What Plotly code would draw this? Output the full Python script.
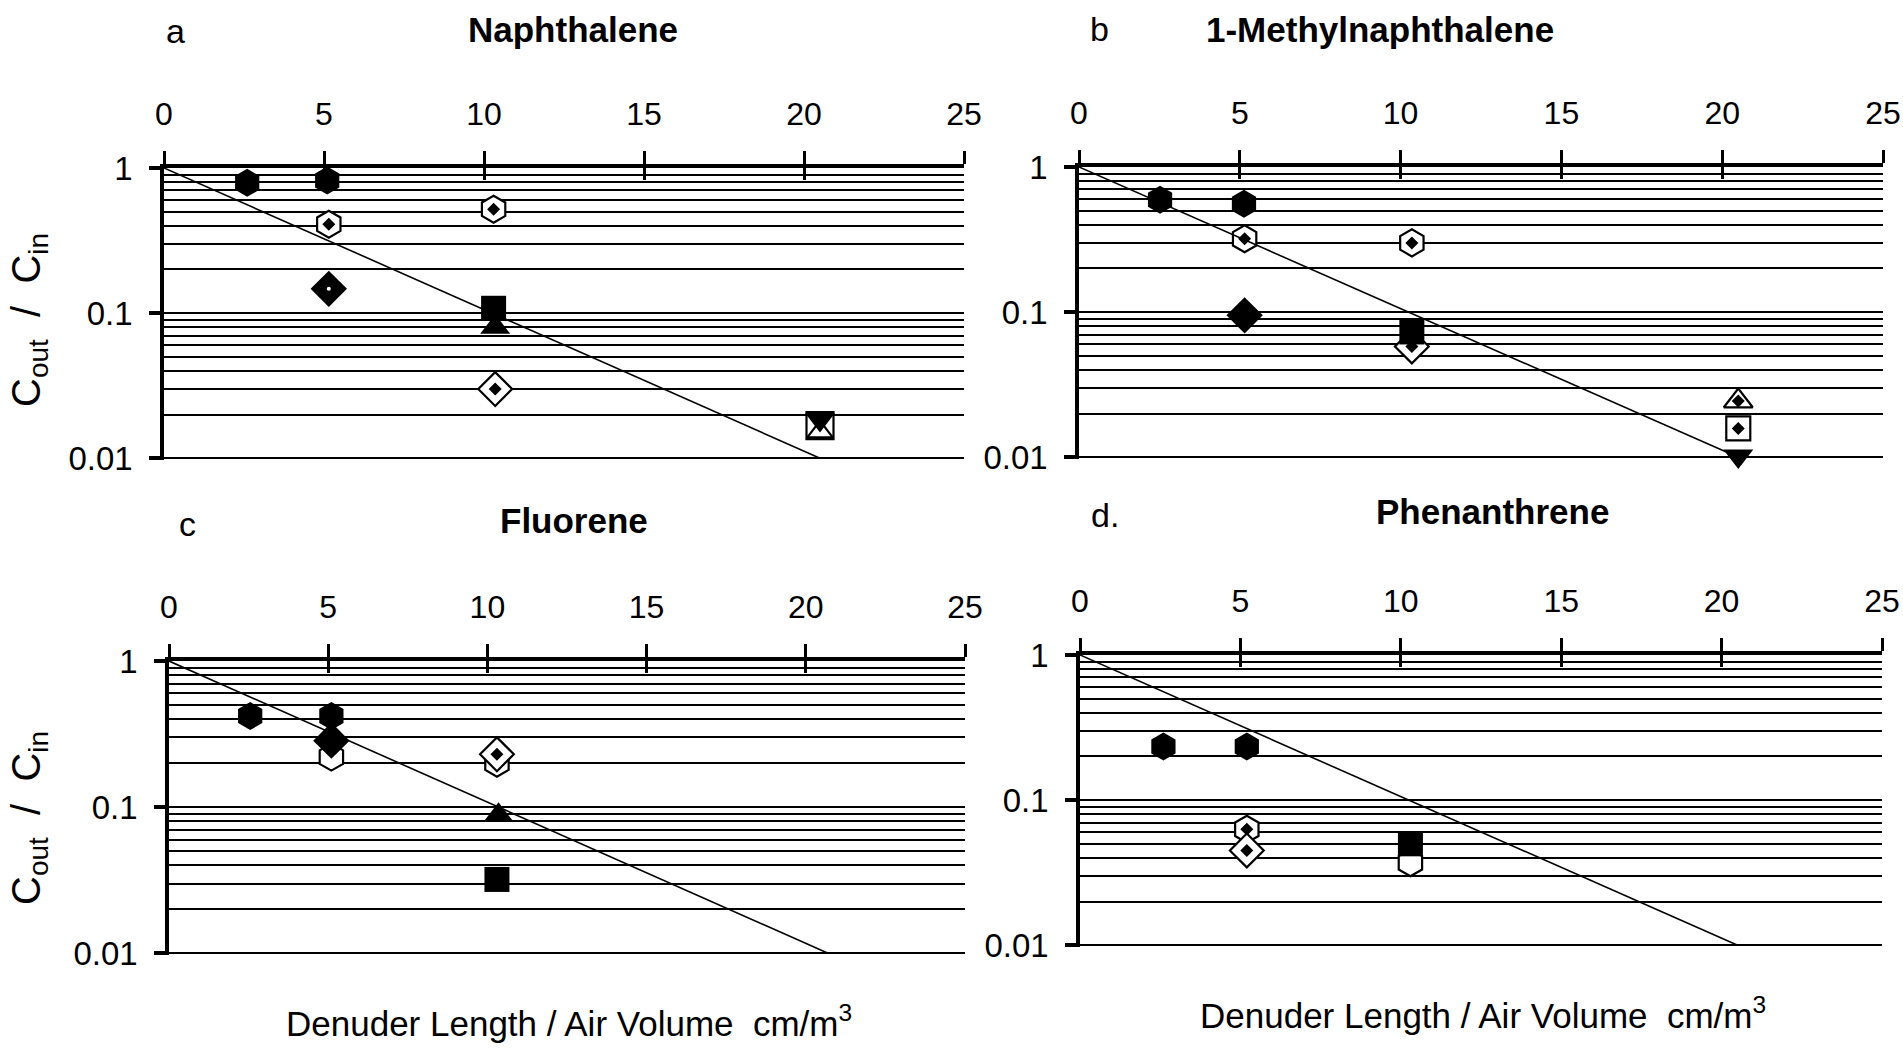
import plotly.graph_objects as go

W, H = 1903, 1048

# ---------------- data ----------------
x_tick_vals = [0, 5, 10, 15, 20, 25]
x_tick_text = ["0", "5", "10", "15", "20", "25"]
y_major_vals = [0.01, 0.1, 1]
y_major_text = ["0.01", "0.1", "1"]
y_minor_vals = [m * d for d in (0.01, 0.1) for m in range(2, 10)]

titles = ["Naphthalene", "1-Methylnaphthalene", "Fluorene", "Phenanthrene"]
letters = ["a", "b", "c", "d."]
x_title = "Denuder Length / Air Volume  cm/m<sup>3</sup>"
y_title = "C<sub>out</sub>  /  C<sub>in</sub>"

# reference line (theory) end points per panel
line_a_x, line_a_y = [0, 20.5], [1, 0.01]
line_b_x, line_b_y = [0, 20.5], [1, 0.01]
line_c_x, line_c_y = [0, 20.7], [1, 0.01]
line_d_x, line_d_y = [0, 20.5], [1, 0.01]

# (a) Naphthalene
a_hex_filled_x, a_hex_filled_y = [2.6, 5.1], [0.79, 0.82]
a_hex_open_dot_x, a_hex_open_dot_y = [5.15, 10.3], [0.41, 0.52]
a_diamond_filled_x, a_diamond_filled_y = [5.15], [0.147]
a_tri_up_filled_x, a_tri_up_filled_y = [10.35], [0.08]
a_square_filled_x, a_square_filled_y = [10.3], [0.108]
a_diamond_open_dot_x, a_diamond_open_dot_y = [10.35], [0.030]
a_square_open_x, a_square_open_y = [20.5], [0.0168]
a_tri_up_open_x, a_tri_up_open_y = [20.5], [0.0152]
a_tri_down_filled_x, a_tri_down_filled_y = [20.5], [0.0185]

# (b) 1-Methylnaphthalene
b_hex_filled_x, b_hex_filled_y = [2.52, 5.13], [0.594, 0.558]
b_hex_open_dot_x, b_hex_open_dot_y = [5.15, 10.35], [0.32, 0.30]
b_diamond_filled_x, b_diamond_filled_y = [5.15], [0.095]
b_diamond_open_dot_x, b_diamond_open_dot_y = [10.35], [0.058]
b_square_filled_x, b_square_filled_y = [10.35], [0.073]
b_tri_up_open_dot_x, b_tri_up_open_dot_y = [20.5], [0.0244]
b_square_open_dot_x, b_square_open_dot_y = [20.5], [0.0158]
b_tri_down_filled_x, b_tri_down_filled_y = [20.5], [0.0102]

# (c) Fluorene
c_hex_filled_x, c_hex_filled_y = [2.55, 5.1], [0.42, 0.42]
c_hex_open_x, c_hex_open_y = [5.1, 10.3], [0.22, 0.20]
c_diamond_filled_x, c_diamond_filled_y = [5.1], [0.285]
c_diamond_open_dot_x, c_diamond_open_dot_y = [10.3], [0.23]
c_tri_up_filled_x, c_tri_up_filled_y = [10.35], [0.088]
c_square_filled_x, c_square_filled_y = [10.3], [0.032]

# (d) Phenanthrene
d_hex_filled_x, d_hex_filled_y = [2.6, 5.2], [0.234, 0.234]
d_hex_open_dot_x, d_hex_open_dot_y = [5.2], [0.063]
d_diamond_open_dot_x, d_diamond_open_dot_y = [5.2], [0.045]
d_hex_open_x, d_hex_open_y = [10.3], [0.037]
d_square_filled_x, d_square_filled_y = [10.3], [0.050]

panels = [
    dict(line=(line_a_x, line_a_y), series=[
        ("hex_open_dot", a_hex_open_dot_x, a_hex_open_dot_y),
        ("diamond_filled", a_diamond_filled_x, a_diamond_filled_y),
        ("diamond_open_dot", a_diamond_open_dot_x, a_diamond_open_dot_y),
        ("tri_up_filled", a_tri_up_filled_x, a_tri_up_filled_y),
        ("square_filled", a_square_filled_x, a_square_filled_y),
        ("square_open", a_square_open_x, a_square_open_y),
        ("tri_up_open", a_tri_up_open_x, a_tri_up_open_y),
        ("tri_down_filled", a_tri_down_filled_x, a_tri_down_filled_y),
        ("hex_filled", a_hex_filled_x, a_hex_filled_y),
    ], white_dot=(a_diamond_filled_x, a_diamond_filled_y)),
    dict(line=(line_b_x, line_b_y), series=[
        ("hex_open_dot", b_hex_open_dot_x, b_hex_open_dot_y),
        ("diamond_filled", b_diamond_filled_x, b_diamond_filled_y),
        ("diamond_open_dot", b_diamond_open_dot_x, b_diamond_open_dot_y),
        ("square_filled", b_square_filled_x, b_square_filled_y),
        ("tri_up_open_dot", b_tri_up_open_dot_x, b_tri_up_open_dot_y),
        ("square_open_dot", b_square_open_dot_x, b_square_open_dot_y),
        ("tri_down_filled", b_tri_down_filled_x, b_tri_down_filled_y),
        ("hex_filled", b_hex_filled_x, b_hex_filled_y),
    ], white_dot=None),
    dict(line=(line_c_x, line_c_y), series=[
        ("hex_open", c_hex_open_x, c_hex_open_y),
        ("diamond_open_dot", c_diamond_open_dot_x, c_diamond_open_dot_y),
        ("diamond_filled", c_diamond_filled_x, c_diamond_filled_y),
        ("tri_up_filled", c_tri_up_filled_x, c_tri_up_filled_y),
        ("square_filled", c_square_filled_x, c_square_filled_y),
        ("hex_filled", c_hex_filled_x, c_hex_filled_y),
    ], white_dot=None),
    dict(line=(line_d_x, line_d_y), series=[
        ("hex_open_dot", d_hex_open_dot_x, d_hex_open_dot_y),
        ("diamond_open_dot", d_diamond_open_dot_x, d_diamond_open_dot_y),
        ("hex_open", d_hex_open_x, d_hex_open_y),
        ("square_filled", d_square_filled_x, d_square_filled_y),
        ("hex_filled", d_hex_filled_x, d_hex_filled_y),
    ], white_dot=None),
]

# ---------------- styles ----------------
FONT = "Liberation Sans, Arial, Helvetica, sans-serif"
BLK = "black"
OUT_W = 2.2

styles = {
    "hex_filled": dict(symbol="hexagon", size=28, color=BLK, line=dict(width=0)),
    "hex_open": dict(symbol="hexagon", size=27, color="white", line=dict(width=OUT_W, color=BLK)),
    "hex_open_dot": dict(symbol="hexagon", size=27, color="white", line=dict(width=OUT_W, color=BLK)),
    "diamond_filled": dict(symbol="diamond", size=28, color=BLK, line=dict(width=0)),
    "diamond_open_dot": dict(symbol="diamond", size=26, color="white", line=dict(width=OUT_W, color=BLK)),
    "square_filled": dict(symbol="square", size=25, color=BLK, line=dict(width=0)),
    "square_open": dict(symbol="square", size=27, color="white", line=dict(width=OUT_W, color=BLK)),
    "square_open_dot": dict(symbol="square", size=24, color="white", line=dict(width=OUT_W, color=BLK)),
    "tri_up_filled": dict(symbol="triangle-up", size=26, color=BLK, line=dict(width=0)),
    "tri_up_open": dict(symbol="triangle-up", size=22, color="white", line=dict(width=OUT_W, color=BLK)),
    "tri_up_open_dot": dict(symbol="triangle-up", size=25, color="white", line=dict(width=OUT_W, color=BLK)),
    "tri_down_filled": dict(symbol="triangle-down", size=26, color=BLK, line=dict(width=0)),
}
inner_dot = dict(symbol="diamond", size=10, color=BLK, line=dict(width=0))

# panel placement in pixels: (x at 0, x at 25, y at 1, y at 0.01)
boxes = [
    (164, 964, 168, 460),
    (1079, 1883, 167, 459),
    (169, 965, 661, 955),
    (1080, 1882, 655, 947),
]

fig = go.Figure()
layout = dict(
    template="none",
    width=W, height=H, margin=dict(l=0, r=0, t=0, b=0, pad=0, autoexpand=False),
    paper_bgcolor="white", plot_bgcolor="rgba(0,0,0,0)",
    showlegend=False, font=dict(family=FONT, color=BLK),
)

annotations = []
for i, (p, box) in enumerate(zip(panels, boxes), start=1):
    x0, x1, yt, yb = box
    xs = "" if i == 1 else str(i)
    xref, yref = "x" + xs, "y" + xs
    ov = str(i + 4)
    layout["xaxis" + xs] = dict(
        domain=[x0 / W, x1 / W], range=[0, 25], side="top", anchor=yref,
        tickvals=x_tick_vals, ticktext=x_tick_text, ticks="outside", ticklen=13,
        tickwidth=2.5, tickcolor=BLK, showline=True, linewidth=3.5, linecolor=BLK,
        showgrid=False, zeroline=False, tickfont=dict(size=32, family=FONT, color=BLK),
        ticklabelstandoff=13, fixedrange=True, automargin=False,
    )
    layout["yaxis" + xs] = dict(
        domain=[1 - yb / H, 1 - yt / H], type="log", range=[-2.012, 0], anchor=xref,
        tickvals=y_major_vals, ticktext=y_major_text, ticks="outside", ticklen=11,
        tickwidth=3.5, tickcolor=BLK, showline=True, linewidth=3.5, linecolor=BLK,
        showgrid=True, gridcolor=BLK, gridwidth=1.8, zeroline=False,
        minor=dict(tickvals=y_minor_vals, showgrid=True, gridcolor=BLK, gridwidth=1.6, ticks=""),
        tickfont=dict(size=33, family=FONT, color=BLK), ticklabelstandoff=10,
        fixedrange=True, automargin=False,
    )
    # overlay axis for the inner half of the crossing ticks
    layout["xaxis" + ov] = dict(
        overlaying=xref, anchor=yref, side="top", range=[0, 25],
        tickvals=x_tick_vals, ticks="inside", ticklen=12, tickwidth=2.5, tickcolor=BLK,
        showticklabels=False, showline=False, showgrid=False, zeroline=False,
        fixedrange=True, automargin=False,
    )
    lx, ly = p["line"]
    fig.add_trace(go.Scatter(x=lx, y=ly, mode="lines", line=dict(color=BLK, width=1.6),
                             xaxis="x" + ov, yaxis=yref, hoverinfo="skip"))
    for key, sx, sy in p["series"]:
        fig.add_trace(go.Scatter(x=sx, y=sy, mode="markers", marker=styles[key],
                                 xaxis=xref, yaxis=yref, cliponaxis=False))
        if key.endswith("_dot"):
            fig.add_trace(go.Scatter(x=sx, y=sy, mode="markers", marker=inner_dot,
                                     xaxis=xref, yaxis=yref, cliponaxis=False))
    if p["white_dot"] is not None:
        wx, wy = p["white_dot"]
        fig.add_trace(go.Scatter(x=wx, y=wy, mode="markers",
                                 marker=dict(symbol="circle", size=4, color="white"),
                                 xaxis=xref, yaxis=yref, cliponaxis=False))

# text placement (pixels)
title_pos = [(573, 29), (1380, 29), (574, 520), (1492, 512)]
letter_pos = [(175, 31), (1099, 29), (187, 524), (1105, 515)]
ytitle_pos = [(29, 320), (29, 818)]
xtitle_pos = [(569, 1021), (1483, 1013)]

for t, (px, py) in zip(titles, title_pos):
    annotations.append(dict(text="<b>" + t + "</b>", x=px / W, y=1 - py / H, xref="paper", yref="paper",
                            showarrow=False, xanchor="center", yanchor="middle",
                            font=dict(size=35, family=FONT, color=BLK)))
for t, (px, py) in zip(letters, letter_pos):
    annotations.append(dict(text=t, x=px / W, y=1 - py / H, xref="paper", yref="paper",
                            showarrow=False, xanchor="center", yanchor="middle",
                            font=dict(size=34, family=FONT, color=BLK)))
for (px, py) in ytitle_pos:
    annotations.append(dict(text=y_title, x=px / W, y=1 - py / H, xref="paper", yref="paper",
                            showarrow=False, xanchor="center", yanchor="middle", textangle=-90,
                            font=dict(size=40, family=FONT, color=BLK)))
for (px, py) in xtitle_pos:
    annotations.append(dict(text=x_title, x=px / W, y=1 - py / H, xref="paper", yref="paper",
                            showarrow=False, xanchor="center", yanchor="middle",
                            font=dict(size=35, family=FONT, color=BLK)))

layout["annotations"] = annotations
fig.update_layout(**layout)
fig.write_html(
    "out.html",
    config=dict(displayModeBar=False),
    post_script="document.body.style.margin='0';document.body.style.overflow='hidden';",
)
